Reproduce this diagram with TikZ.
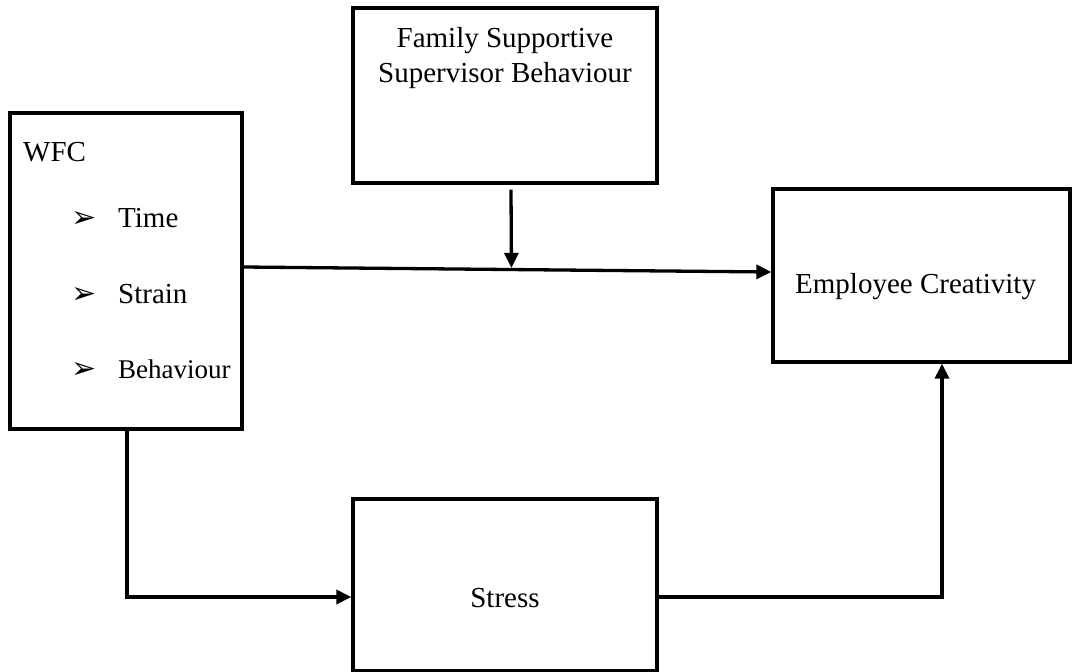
\documentclass[tikz,border=0pt]{standalone}
\usepackage{fontspec}
\setmainfont{Liberation Serif}
\newfontfamily\dejavu{DejaVu Sans}
\usetikzlibrary{arrows.meta,calc}
\begin{document}
\begin{tikzpicture}[x=1pt,y=-1pt,
  box/.style={draw,line width=3.3pt,inner sep=0pt,rectangle},
  txt/.style={inner sep=0pt,font=\fontsize{29}{35}\selectfont},
  smalltxt/.style={inner sep=0pt,font=\fontsize{27}{32}\selectfont},
  bul/.style={inner sep=0pt,font=\dejavu\fontsize{30}{30}\selectfont},
  conn/.style={line width=3.3pt,-{Triangle[length=15pt,width=14pt]}}]
\useasboundingbox (0,0) rectangle (1072,672);
% boxes
\node[box,minimum width=232pt,minimum height=316pt] (wfc) at (126,271) {};
\node[box,minimum width=304pt,minimum height=175pt] (fssb) at (505,95.5) {};
\node[box,minimum width=297pt,minimum height=173pt] (ec) at (921.5,275.5) {};
\node[box,minimum width=304pt,minimum height=172pt] (stress) at (505,585) {};
% texts
\node[txt,anchor=base west] (t0) at (23,161) {WFC};
\node[bul,anchor=base west] (b1) at (71,227) {➢};
\node[txt,anchor=base west] (t1) at (118,227) {Time};
\node[bul,anchor=base west] (b2) at (71,303) {➢};
\node[txt,anchor=base west] (t2) at (118,303) {Strain};
\node[bul,anchor=base west] (b3) at (71,378) {➢};
\node[smalltxt,anchor=base west] (t3) at (118,378) {Behaviour};
\node[txt,anchor=base] (f1) at (505,47) {Family Supportive};
\node[txt,anchor=base] (f2) at (505,82) {Supervisor Behaviour};
\node[txt,anchor=base west] (e1) at (795,293) {Employee Creativity};
\node[txt,anchor=base] (s1) at (505,607) {Stress};
% connectors
\coordinate (a) at ([yshift=4pt]wfc.east);
\coordinate (b) at ([yshift=3.5pt]ec.west);
\draw[conn] (a) -- (b);
\coordinate (mid) at ($(a)!0.5075!(b)$);
\draw[conn] ([xshift=6pt,yshift=-5pt]fssb.south) -- ([yshift=1.6pt]mid);
\draw[conn] ([xshift=1pt]wfc.south) |- ([yshift=-12pt]stress.west);
\draw[conn] ([yshift=-12pt]stress.east) -| ([xshift=20.5pt]ec.south);
\end{tikzpicture}
\end{document}
